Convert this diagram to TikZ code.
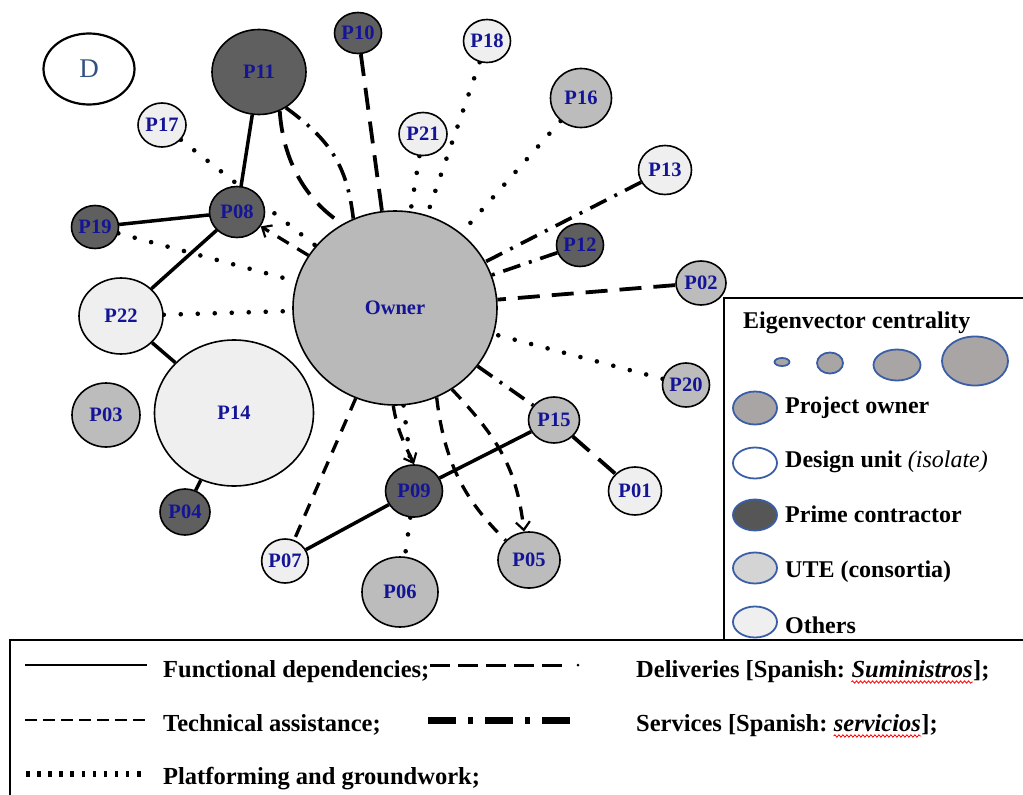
\documentclass[tikz,border=0pt]{standalone}
\usepackage{fontspec}
\setmainfont{Liberation Serif}
\usetikzlibrary{shapes.geometric,arrows.meta,backgrounds,decorations.pathmorphing}
\definecolor{navyl}{RGB}{20,20,150}
\definecolor{darkn}{RGB}{95,95,95}
\definecolor{greyn}{RGB}{188,188,188}
\definecolor{ownerc}{RGB}{185,185,185}
\definecolor{lightn}{RGB}{239,239,239}
\definecolor{legblue}{RGB}{58,94,165}
\definecolor{legfill}{RGB}{170,165,165}
\definecolor{dlabel}{RGB}{50,80,130}
\newcommand\nlab{\bfseries\fontsize{20.5}{22}\selectfont}
\newcommand\lgf{\bfseries\fontsize{24}{26}\selectfont}
\newcommand\lgb{\bfseries\fontsize{24.5}{26}\selectfont}
\tikzset{
  nd/.style={ellipse, draw=black, line width=1.6pt, inner sep=0pt, font=\nlab, text=navyl},
  dk/.style={nd, fill=darkn},
  gr/.style={nd, fill=greyn},
  lt/.style={nd, fill=lightn},
  func/.style={line width=3.5pt},
  deliv/.style={line width=3.8pt, dash pattern=on 22pt off 12pt},
  tech/.style={line width=3.3pt, dash pattern=on 13pt off 10pt},
  serv/.style={line width=3.6pt, dash pattern=on 18pt off 9pt on 3pt off 9pt},
  plat/.style={line width=4.6pt, line cap=round, dash pattern=on 0pt off 17pt},
  legell/.style={ellipse, draw=legblue, line width=1.8pt, inner sep=0pt},
  legtxt/.style={anchor=base west, inner sep=0pt, font=\lgf},
  bottxt/.style={anchor=base west, inner sep=0pt, font=\lgb},
  barb/.style={-{Straight Barb[length=8pt,width=14pt,line width=2.2pt]}},
  wavy/.style={red, line width=0.8pt, decorate, decoration={snake, amplitude=1.2pt, segment length=4pt}}
}
\begin{document}
\begin{tikzpicture}[x=1pt,y=-1pt]
\useasboundingbox (0,0) rectangle (1023,795);

% nodes
\node[ellipse, draw=black, line width=2.2pt, fill=white, inner sep=0pt, minimum width=91pt, minimum height=71pt, text=dlabel, font=\fontsize{27}{28}\selectfont] (D) at (89,69) {D};
\node[dk, minimum width=47pt, minimum height=41pt] (P10) at (358,33) {P10};
\node[dk, minimum width=94pt, minimum height=85pt] (P11) at (259,72) {P11};
\node[lt, minimum width=47pt, minimum height=43pt] (P18) at (487,41) {P18};
\node[gr, minimum width=61pt, minimum height=59pt] (P16) at (581,98) {P16};
\node[lt, minimum width=48pt, minimum height=44pt] (P17) at (162,125) {P17};
\node[lt, minimum width=48pt, minimum height=43pt] (P21) at (423,134) {P21};
\node[lt, minimum width=53pt, minimum height=49pt] (P13) at (665,170) {P13};
\node[dk, minimum width=55pt, minimum height=51pt] (P08) at (237,212) {P08};
\node[dk, minimum width=47pt, minimum height=43pt] (P19) at (95,227) {P19};
\node[dk, minimum width=47pt, minimum height=43pt] (P12) at (580,245) {P12};
\node[gr, minimum width=50pt, minimum height=44pt] (P02) at (701,283) {P02};
\node[nd, fill=ownerc, minimum width=204pt, minimum height=194pt] (Owner) at (395,308) {Owner};
\node[lt, minimum width=84pt, minimum height=76pt] (P22) at (121,316) {P22};
\node[gr, minimum width=47pt, minimum height=44pt] (P20) at (686,385) {P20};
\node[gr, minimum width=68pt, minimum height=64pt] (P03) at (106,415) {P03};
\node[lt, minimum width=159pt, minimum height=146pt] (P14) at (234,413) {P14};
\node[gr, minimum width=51pt, minimum height=46pt] (P15) at (554,420) {P15};
\node[dk, minimum width=57pt, minimum height=52pt] (P09) at (414,491) {P09};
\node[lt, minimum width=53pt, minimum height=48pt] (P01) at (635,491) {P01};
\node[dk, minimum width=50pt, minimum height=46pt] (P04) at (185,512) {P04};
\node[lt, minimum width=46pt, minimum height=44pt] (P07) at (285,561) {P07};
\node[gr, minimum width=76pt, minimum height=70pt] (P06) at (400,592) {P06};
\node[gr, minimum width=62pt, minimum height=56pt] (P05) at (529,560) {P05};

% edges
\begin{scope}[on background layer]
\draw[func] (P11) -- (P08);
\draw[func] (P19) -- (P08);
\draw[func] (P08) -- (P22);
\draw[func] (P22) -- (P14);
\draw[func] (P14) -- (P04);
\draw[func] (P07) -- (P09);
\draw[func] (P09) -- (P15);
\draw[deliv] (P10) -- (Owner);
\draw[deliv] (P02) -- (Owner);
\draw[deliv] (P15) -- (P01);
\draw[deliv] (P11.-62) .. controls (283,160) and (305,200) .. (Owner.122);
\draw[serv] (P11.-53) .. controls (330,140) and (347,165) .. (Owner.115);
\draw[serv] (P13) -- (Owner);
\draw[serv] (P12) -- (Owner);
\draw[serv] (Owner) -- (P15);
\draw[plat] (P18) -- (Owner);
\draw[plat] (P21) -- (Owner);
\draw[plat] (P16) -- (Owner);
\draw[plat] (P20) -- (Owner);
\draw[plat] (P17) -- (Owner);
\draw[plat] (P19) -- (Owner);
\draw[plat] (P22) -- (Owner);
\draw[plat] (P09) -- (P06);
\draw[plat] (Owner.-85) -- (P09);
\draw[tech, barb] (Owner) -- (P08);
\draw[tech] (Owner) -- (P07);
\draw[tech, barb] (Owner.-91) .. controls (397,430) and (405,445) .. (P09.north);
\draw[tech] (Owner.-65) .. controls (445,470) and (470,505) .. (P05.140);
\draw[tech, barb] (Owner.-55) .. controls (500,440) and (517,470) .. (P05.100);
\end{scope}

% right legend
\draw[line width=2.2pt] (1023,298) -- (724,298) -- (724,640);
\node[legtxt] (ec) at (743,328) {Eigenvector centrality};
\node[legell, fill=legfill, minimum width=15pt, minimum height=8pt] (s1) at (782,362) {};
\node[legell, fill=legfill, minimum width=26pt, minimum height=21pt] (s2) at (830,363) {};
\node[legell, fill=legfill, minimum width=47pt, minimum height=31pt] (s3) at (897,365) {};
\node[legell, fill=legfill, minimum width=66pt, minimum height=49pt] (s4) at (975,361) {};
\node[legell, fill=legfill, minimum width=44pt, minimum height=33pt] (l1) at (755,408) {};
\node[legtxt] (t1) at (785,413) {Project owner};
\node[legell, fill=white, minimum width=44pt, minimum height=31pt] (l2) at (755,463) {};
\node[legtxt] (t2) at (785,467) {Design unit {\mdseries\itshape (isolate)}};
\node[legell, fill=darkn!90!black, minimum width=44pt, minimum height=31pt] (l3) at (755,515) {};
\node[legtxt] (t3) at (785,522) {Prime contractor};
\node[legell, fill=black!17, minimum width=44pt, minimum height=31pt] (l4) at (755,568) {};
\node[legtxt] (t4) at (785,577) {UTE (consortia)};
\node[legell, fill=lightn, minimum width=44pt, minimum height=31pt] (l5) at (755,622) {};
\node[legtxt] (t5) at (785,633) {Others};

% bottom legend
\draw[line width=2.2pt] (1023,640) -- (10,640) -- (10,795);
\draw[line width=2.8pt] (25,665) -- (147,665);
\node[bottxt] (b1) at (163,677) {Functional dependencies;};
\draw[line width=3pt, dash pattern=on 20pt off 8pt] (430,665) -- (570,665);
\fill (578,665) circle (1.5pt);
\node[bottxt] (d1) at (636,677) {Deliveries [Spanish:};
\node[bottxt, xshift=6pt] (d2) at (d1.base east) {\itshape Suministros};
\node[bottxt] (d3) at (d2.base east) {];};
\draw[wavy] ([yshift=-5pt]d2.base west) -- ([yshift=-5pt]d2.base east);

\draw[line width=2.2pt, dash pattern=on 12pt off 6pt] (25,720) -- (147,720);
\node[bottxt] (b2) at (163,731) {Technical assistance;};
\draw[line width=7pt, dash pattern=on 28pt off 12pt on 5pt off 12pt] (428,720) -- (570,720);
\node[bottxt] (e1) at (636,731) {Services [Spanish:};
\node[bottxt, xshift=6pt] (e2) at (e1.base east) {\itshape servicios};
\node[bottxt] (e3) at (e2.base east) {];};
\draw[wavy] ([yshift=-5pt]e2.base west) -- ([yshift=-5pt]e2.base east);

\draw[line width=6pt, dash pattern=on 3.5pt off 7.6pt] (26,774) -- (148,774);
\node[bottxt] (b3) at (163,784) {Platforming and groundwork;};
\end{tikzpicture}
\end{document}
